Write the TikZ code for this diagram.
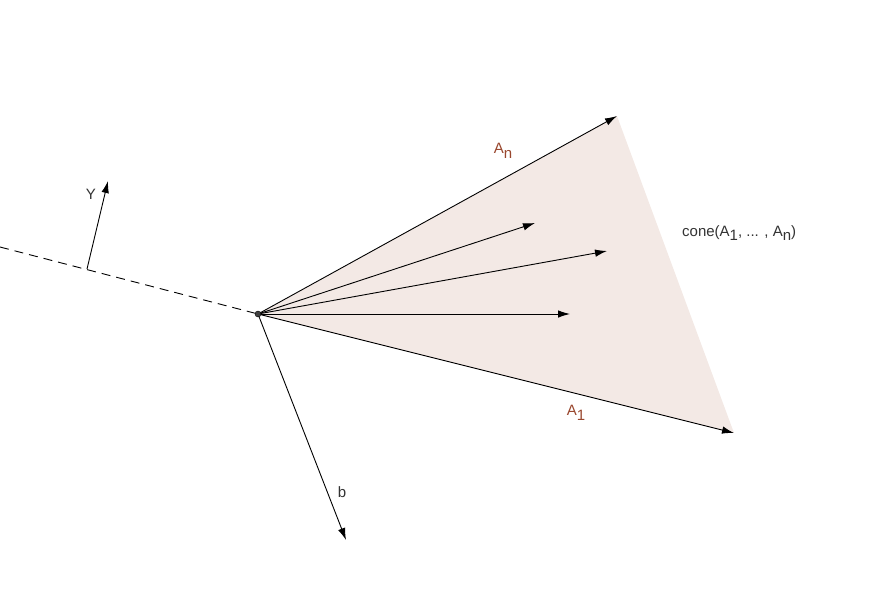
\documentclass[tikz,border=0pt]{standalone}
\usepackage{fontspec}
\setmainfont{Liberation Sans}
\usetikzlibrary{arrows.meta}
\definecolor{conefill}{HTML}{F3E9E5}
\definecolor{lblbrown}{HTML}{99472E}
\definecolor{txtgray}{HTML}{333333}
\newcommand{\lowsub}[1]{\raisebox{-0.6ex}{#1}}
\tikzset{
  vec/.style={line width=0.9pt, -{Latex[length=12pt,width=7.5pt]}},
  lbl/.style={font=\fontsize{15}{17}\selectfont, text=txtgray, inner sep=0pt},
  brownlbl/.style={lbl, text=lblbrown},
}
\begin{document}
\begin{tikzpicture}[x=1pt,y=-1pt]
\useasboundingbox (0,0) rectangle (873,590);
\coordinate (O) at (258,314);
\coordinate (An) at (617,116);
\coordinate (A1) at (734,433);
\coordinate (V2) at (535,223);
\coordinate (V3) at (607,251);
\coordinate (V4) at (570,314);
\coordinate (L) at (0,247);
\coordinate (Yb) at (87,269);
\coordinate (Yt) at (108,181);
\coordinate (B) at (346,540);
\fill[conefill] (O) -- (An) -- (A1) -- cycle;
\draw[line width=0.9pt, dash pattern=on 9pt off 6pt] (L) -- (O);
\draw[vec] (O) -- (An);
\draw[vec] (O) -- (A1);
\draw[vec] (O) -- (V2);
\draw[vec] (O) -- (V3);
\draw[vec] (O) -- (V4);
\draw[vec] (Yb) -- (Yt);
\draw[vec] (O) -- (B);
\fill[black!75] (O) circle (3pt);
\draw[black] (O) circle (3pt);
\node[brownlbl] (lAn) at (503,151) {A\lowsub{n}};
\node[brownlbl] (lA1) at (576,413) {A\lowsub{1}};
\node[lbl, anchor=west] (lcone) at (682,233) {cone(A\lowsub{1}, ... , A\lowsub{n})};
\node[lbl] (lY) at (91,194) {Y};
\node[lbl] (lb) at (342,492) {b};
\end{tikzpicture}
\end{document}
